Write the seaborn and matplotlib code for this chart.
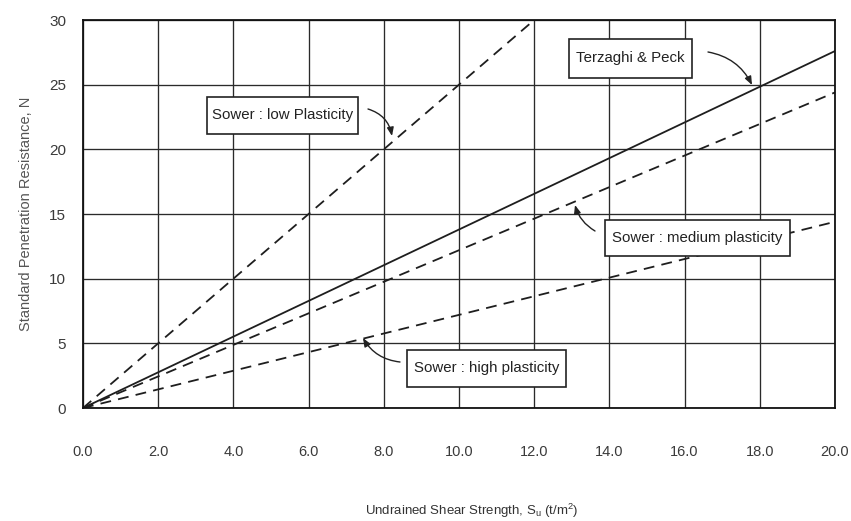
import matplotlib
matplotlib.use("Agg")
import matplotlib.pyplot as plt
from matplotlib.patches import Rectangle
import seaborn as sns
import pandas as pd

# ---- data ----
su_low = [0.0, 12.0]
n_low = [0.0, 30.0]
su_terzaghi = [0.0, 20.0]
n_terzaghi = [0.0, 27.6]
su_medium = [0.0, 20.0]
n_medium = [0.0, 24.4]
su_high = [0.0, 20.0]
n_high = [0.0, 14.4]

x_ticks = [0, 2, 4, 6, 8, 10, 12, 14, 16, 18, 20]
x_tick_labels = ["0.0", "2.0", "4.0", "6.0", "8.0", "10.0", "12.0", "14.0", "16.0", "18.0", "20.0"]
y_ticks = [0, 5, 10, 15, 20, 25, 30]

dash = (0, (6, 4))
series = [
    ("Sower : low Plasticity", su_low, n_low, dash),
    ("Terzaghi & Peck", su_terzaghi, n_terzaghi, "solid"),
    ("Sower : medium plasticity", su_medium, n_medium, dash),
    ("Sower : high plasticity", su_high, n_high, dash),
]

sns.set_style("white")
plt.rcParams["font.family"] = ["Liberation Sans", "DejaVu Sans"]
plt.rcParams["mathtext.fontset"] = "custom"
plt.rcParams["mathtext.rm"] = "Liberation Sans"
plt.rcParams["mathtext.it"] = "Liberation Sans"

W, H = 851, 521
fig = plt.figure(figsize=(W / 100, H / 100), dpi=100)
ax = fig.add_axes([83 / W, 1 - 408 / H, (835 - 83) / W, (408 - 20) / H])

line_color = "#1e1e1e"
for name, xs, ys, ls in series:
    df = pd.DataFrame({"Su": xs, "N": ys})
    sns.lineplot(data=df, x="Su", y="N", ax=ax, color=line_color, lw=1.3,
                 linestyle=ls, legend=False)

ax.set_xlim(0, 20)
ax.set_ylim(0, 30)
ax.set_xticks(x_ticks)
ax.set_xticklabels(x_tick_labels)
ax.set_yticks(y_ticks)
ax.grid(True, color="#2a2a2a", lw=0.95)
ax.set_axisbelow(True)
for sp in ax.spines.values():
    sp.set_visible(True)
    sp.set_color("#111111")
    sp.set_linewidth(1.3)

ax.tick_params(axis="x", length=0, pad=27, labelsize=10.5, labelcolor="#3a3a3a")
ax.tick_params(axis="y", length=0, pad=12, labelsize=11, labelcolor="#3a3a3a")

ax.set_xlabel("")
ax.set_ylabel("Standard Penetration Resistance, N", fontsize=10.5, color="#555555",
              labelpad=12)
fig.text(472 / W, 1 - 511 / H, r"Undrained Shear Strength, S$_{\mathrm{u}}$ (t/m$^{2}$)",
         ha="center", va="center", fontsize=9.5, color="#333333")

def px2data(px, py):
    return ((px - 83) / 37.6, (408 - py) / 12.933)

arrow_kw = dict(arrowstyle="-|>,head_length=0.5,head_width=0.2", color="#222222", lw=1.0,
                shrinkA=0, shrinkB=0)

# text, box (x0, y0, x1, y1 in pixels), arrow start, arrow tip, connection
labels = [
    ("Terzaghi & Peck", (569, 39, 692, 78), (708, 52), (752, 85), "arc3,rad=-0.25"),
    ("Sower : low Plasticity", (207, 97, 358, 134), (368, 109), (392, 136), "arc3,rad=-0.3"),
    ("Sower : medium plasticity", (605, 220, 790, 256), (595, 231), (575, 205), "arc3,rad=-0.2"),
    ("Sower : high plasticity", (407, 350, 566, 387), (400, 362), (363, 338), "arc3,rad=-0.25"),
]
for text, (x0, y0, x1, y1), a0, a1, cs in labels:
    bx0, by1 = px2data(x0, y0)
    bx1, by0 = px2data(x1, y1)
    ax.add_patch(Rectangle((bx0, by0), bx1 - bx0, by1 - by0, fc="white",
                           ec="#222222", lw=1.2, zorder=5))
    ax.text((bx0 + bx1) / 2, (by0 + by1) / 2, text, ha="center", va="center",
            fontsize=10.8, color="#222222", zorder=6)
    ax.annotate("", xy=px2data(*a1), xytext=px2data(*a0),
                arrowprops=dict(connectionstyle=cs, **arrow_kw), zorder=7)

fig.savefig("out.png", dpi=100)
